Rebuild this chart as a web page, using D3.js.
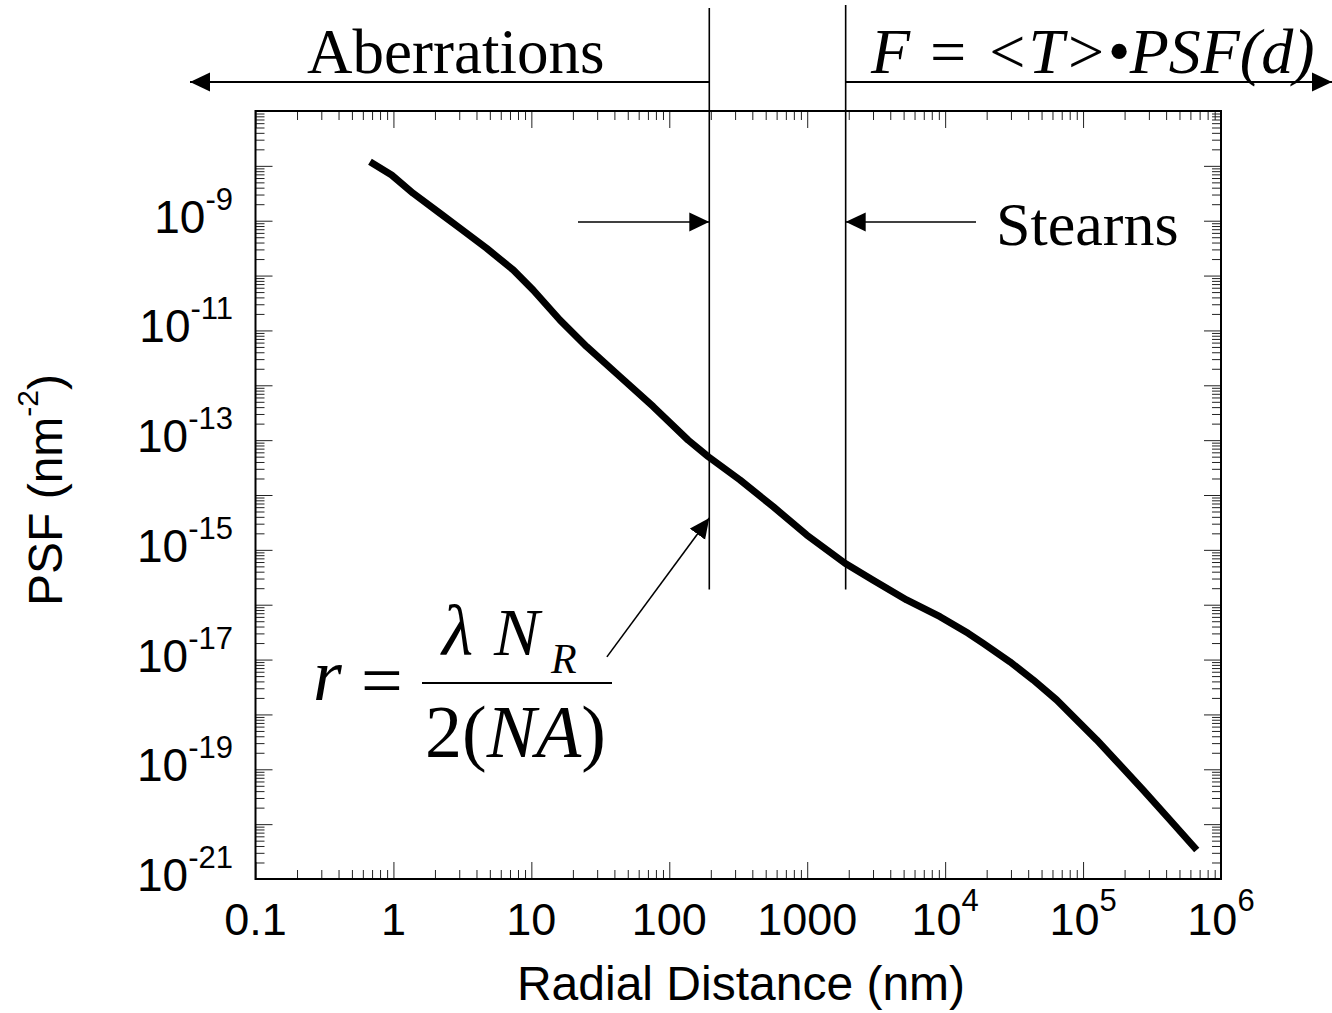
<!DOCTYPE html>
<html>
<head>
<meta charset="utf-8">
<script src="https://cdn.jsdelivr.net/npm/d3@7/dist/d3.min.js"></script>
<style>
  html, body { margin: 0; padding: 0; background: #fff; }
  svg { display: block; }
  .sans { font-family: "Liberation Sans", Arial, sans-serif; }
  .serif { font-family: "Liberation Serif", "Times New Roman", serif; }
</style>
</head>
<body>
<svg id="chart" width="1332" height="1013"></svg>
<script>
// Radial point-spread function (nm) and its value (nm^-2)
const radius = [0.676, 0.97, 1.39, 2.18, 3.04, 4.74, 7.40, 10.3, 16.1, 25.2, 44, 76.6,
  137, 192, 326, 568, 991, 1880, 3010, 5260, 9180, 14700, 18900, 29500, 43500,
  64400, 89900, 125600, 185000, 273000, 427000, 667000];
const psf = [1.19e-8, 6.8e-9, 3.16e-9, 1.36e-9, 7.3e-10, 3.14e-10, 1.26e-10, 5.46e-11,
  1.55e-11, 5.05e-12, 1.43e-12, 4.07e-13, 1.0e-13, 4.99e-14, 1.88e-14, 6.1e-15,
  1.87e-15, 5.7e-16, 2.8e-16, 1.22e-16, 6.04e-17, 3.01e-17, 1.98e-17, 9.1e-18,
  4.25e-18, 1.83e-18, 7.9e-19, 3.42e-19, 1.20e-19, 4.19e-20, 1.19e-20, 3.38e-21];

// Axis extents and tick labels
const xDomain = [0.1, 1e6];
const yDomain = [1e-21, 1e-7];
const xTicks = [0.1, 1, 10, 100, 1000, 1e4, 1e5, 1e6];
const xTickBase = ["0.1", "1", "10", "100", "1000", "10", "10", "10"];
const xTickExp  = ["", "", "", "", "", "4", "5", "6"];
const yTicks = [1e-21, 1e-19, 1e-17, 1e-15, 1e-13, 1e-11, 1e-9];
const yTickExp = ["-21", "-19", "-17", "-15", "-13", "-11", "-9"];

// Region boundaries (nm) and annotation anchors
const boundaries = [195, 1900];
const boundaryLow = 1.9e-16;
const stearnsLevel = 9.5e-10;
const formulaArrowFrom = [35.3, 1.12e-17];
const formulaArrowTo = [195, 3.8e-15];

const svg = d3.select("#chart");
const plot = { left: 255.5, right: 1221, top: 111, bottom: 879 };

const x = d3.scaleLog().domain(xDomain).range([plot.left, plot.right]);
const y = d3.scaleLog().domain(yDomain).range([plot.bottom, plot.top]);

// decade and sub-decade tick positions
function decades(lo, hi) {
  const out = [];
  for (let e = Math.round(Math.log10(lo)); e <= Math.round(Math.log10(hi)); e++) out.push(Math.pow(10, e));
  return out;
}
function subDecades(lo, hi) {
  const out = [];
  for (let e = Math.round(Math.log10(lo)); e < Math.round(Math.log10(hi)); e++)
    for (let m = 2; m <= 9; m++) out.push(m * Math.pow(10, e));
  return out;
}
const xMajor = decades(...xDomain), xMinor = subDecades(...xDomain);
const yMajor = decades(...yDomain), yMinor = subDecades(...yDomain);

// inward ticks on all four sides
function tickLayer(axisFn, scale, values, size, transform) {
  const g = svg.append("g").attr("transform", transform)
    .call(axisFn(scale).tickValues(values).tickSizeInner(-size).tickSizeOuter(0).tickFormat(""));
  g.select(".domain").remove();
  g.selectAll(".tick line").attr("stroke", "#222").attr("stroke-width", 1);
  return g;
}
const W = plot.right - plot.left, H = plot.bottom - plot.top;
tickLayer(d3.axisBottom, x, xMajor, 17, `translate(0,${plot.bottom})`);
tickLayer(d3.axisBottom, x, xMinor, 9, `translate(0,${plot.bottom})`);
tickLayer(d3.axisTop, x, xMajor, 17, `translate(0,${plot.top})`);
tickLayer(d3.axisTop, x, xMinor, 9, `translate(0,${plot.top})`);
tickLayer(d3.axisLeft, y, yMajor, 17, `translate(${plot.left},0)`);
tickLayer(d3.axisLeft, y, yMinor, 9, `translate(${plot.left},0)`);
tickLayer(d3.axisRight, y, yMajor, 17, `translate(${plot.right},0)`);
tickLayer(d3.axisRight, y, yMinor, 9, `translate(${plot.right},0)`);

// plot frame
svg.append("rect")
  .attr("x", plot.left).attr("y", plot.top).attr("width", W).attr("height", H)
  .attr("fill", "none").attr("stroke", "#000").attr("stroke-width", 2);

// x tick labels
const xl = svg.append("g").attr("class", "sans").attr("font-size", 45).attr("fill", "#000");
xTicks.forEach((v, i) => {
  const t = xl.append("text").attr("x", x(v)).attr("y", 935).attr("text-anchor", "middle");
  t.append("tspan").text(xTickBase[i]);
  if (xTickExp[i]) t.append("tspan").attr("dy", -24).attr("font-size", 31).text(xTickExp[i]);
});

// y tick labels
const yl = svg.append("g").attr("class", "sans").attr("font-size", 46).attr("fill", "#000");
yTicks.forEach((v, i) => {
  const t = yl.append("text").attr("x", 233).attr("y", y(v) + 12).attr("text-anchor", "end");
  t.append("tspan").text("10");
  t.append("tspan").attr("dy", -23).attr("font-size", 31).text(yTickExp[i]);
});

// axis titles
svg.append("text").attr("class", "sans").attr("font-size", 48)
  .attr("x", 741).attr("y", 1000).attr("text-anchor", "middle").text("Radial Distance (nm)");
const yt = svg.append("text").attr("class", "sans").attr("font-size", 48)
  .attr("text-anchor", "middle").attr("transform", "translate(62,490) rotate(-90)");
yt.append("tspan").text("PSF (nm");
yt.append("tspan").attr("dy", -24).attr("font-size", 30).text("-2");
yt.append("tspan").attr("dy", 24).text(")");

// PSF curve
const line = d3.line().x(d => x(d[0])).y(d => y(d[1]));
svg.append("path")
  .datum(radius.map((r, i) => [r, psf[i]]))
  .attr("d", line)
  .attr("fill", "none").attr("stroke", "#000").attr("stroke-width", 7)
  .attr("stroke-linejoin", "round").attr("stroke-linecap", "butt");

// arrowhead marker
const defs = svg.append("defs");
defs.append("marker").attr("id", "head")
  .attr("viewBox", "0 -10 20 20").attr("refX", 20).attr("refY", 0)
  .attr("markerWidth", 20).attr("markerHeight", 20)
  .attr("markerUnits", "userSpaceOnUse").attr("orient", "auto")
  .append("path").attr("d", "M0,-9.5L20,0L0,9.5Z").attr("fill", "#000");

// region boundaries
const tops = [plot.top - 103, plot.top - 106];
boundaries.forEach((b, i) => {
  svg.append("line")
    .attr("x1", x(b)).attr("x2", x(b)).attr("y1", tops[i]).attr("y2", y(boundaryLow))
    .attr("stroke", "#000").attr("stroke-width", 1.6);
});

// region arrows above the plot
const regionY = 82;
svg.append("line").attr("x1", x(boundaries[0])).attr("y1", regionY).attr("x2", 190).attr("y2", regionY)
  .attr("stroke", "#000").attr("stroke-width", 2).attr("marker-end", "url(#head)");
svg.append("line").attr("x1", x(boundaries[1])).attr("y1", regionY).attr("x2", 1332).attr("y2", regionY)
  .attr("stroke", "#000").attr("stroke-width", 2).attr("marker-end", "url(#head)");

svg.append("text").attr("class", "serif").attr("font-size", 63)
  .attr("x", 307).attr("y", 73).text("Aberrations");
svg.append("text").attr("class", "serif").attr("font-size", 64).attr("font-style", "italic")
  .attr("x", 871).attr("y", 73).text("F = <T>\u2022PSF(d)");

// Stearns arrows
svg.append("line").attr("x1", 578).attr("y1", y(stearnsLevel)).attr("x2", x(boundaries[0])).attr("y2", y(stearnsLevel))
  .attr("stroke", "#000").attr("stroke-width", 1.6).attr("marker-end", "url(#head)");
svg.append("line").attr("x1", 976).attr("y1", y(stearnsLevel)).attr("x2", x(boundaries[1])).attr("y2", y(stearnsLevel))
  .attr("stroke", "#000").attr("stroke-width", 1.6).attr("marker-end", "url(#head)");
svg.append("text").attr("class", "serif").attr("font-size", 62)
  .attr("x", 996).attr("y", 245).text("Stearns");

// resolution formula and pointer
svg.append("line")
  .attr("x1", x(formulaArrowFrom[0])).attr("y1", y(formulaArrowFrom[1]))
  .attr("x2", x(formulaArrowTo[0])).attr("y2", y(formulaArrowTo[1]))
  .attr("stroke", "#000").attr("stroke-width", 1.6).attr("marker-end", "url(#head)");

const f = svg.append("g").attr("class", "serif").attr("fill", "#000");
f.append("text").attr("x", 313).attr("y", 700).attr("font-size", 74).attr("font-style", "italic").text("r");
f.append("text").attr("x", 361).attr("y", 705).attr("font-size", 74).text("=");
f.append("line").attr("x1", 422).attr("x2", 612).attr("y1", 683).attr("y2", 683)
  .attr("stroke", "#000").attr("stroke-width", 2);
f.append("text").attr("x", 442).attr("y", 655).attr("font-size", 72).attr("font-style", "italic").text("\u03BB");
f.append("text").attr("x", 494).attr("y", 655).attr("font-size", 68).attr("font-style", "italic").text("N");
f.append("text").attr("x", 551).attr("y", 673).attr("font-size", 42).attr("font-style", "italic").text("R");
const den = f.append("text").attr("x", 425).attr("y", 757).attr("font-size", 74);
den.append("tspan").text("2(");
den.append("tspan").attr("font-style", "italic").text("NA");
den.append("tspan").text(")");
</script>
</body>
</html>
